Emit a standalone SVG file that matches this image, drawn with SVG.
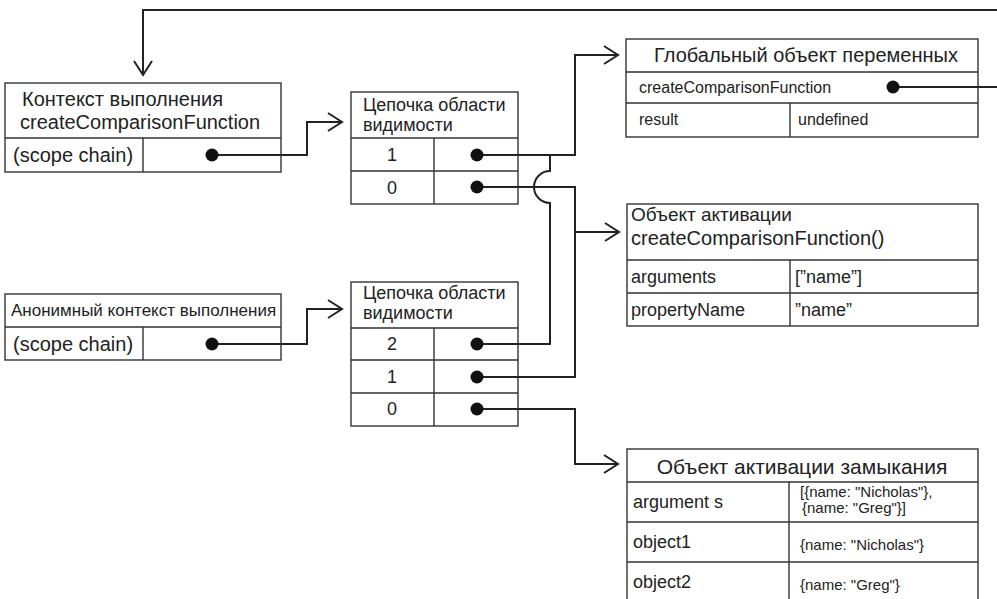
<svg xmlns="http://www.w3.org/2000/svg" width="997" height="599" viewBox="0 0 997 599">
<defs>
<style>
.box{fill:#fff;stroke:#333;stroke-width:1.4}
.div{stroke:#333;stroke-width:1.4;fill:none}
.con{fill:none;stroke:#222;stroke-width:2}
.dot{fill:#111}
text{font-family:"Liberation Sans",Arial,sans-serif;fill:#222}
.h21{font-size:21px}
.h20{font-size:20px}
.h19{font-size:19px}
.h18{font-size:18px}
.h17{font-size:17px}
.t16{font-size:16px}
.t15{font-size:15px}
.mid{text-anchor:middle}
</style>
<marker id="arr" markerUnits="userSpaceOnUse" markerWidth="20" markerHeight="24" viewBox="-16 -12 20 24" refX="0" refY="0" orient="auto">
<path d="M-14,-9 L0,0 L-14,9" fill="none" stroke="#222" stroke-width="2"/>
</marker>
</defs>
<rect width="997" height="599" fill="#fff"/>

<g id="ctx1">
<rect class="box" x="5" y="83" width="276" height="89"/>
<path class="div" d="M5,138 H281 M143,138 V172"/>
<text class="h20" x="22" y="106">Контекст выполнения</text>
<text class="h20" x="20" y="129">createComparisonFunction</text>
<text class="h20" x="13" y="162">(scope chain)</text>
</g>

<g id="anon">
<rect class="box" x="5" y="294" width="276" height="66"/>
<path class="div" d="M5,327 H281 M143,327 V360"/>
<text class="h17" x="11" y="316">Анонимный контекст выполнения</text>
<text class="h20" x="13" y="351">(scope chain)</text>
</g>

<g id="chain1">
<rect class="box" x="351" y="92" width="167" height="112"/>
<path class="div" d="M351,138 H518 M351,171 H518 M434,138 V204"/>
<text class="h18" x="363" y="111">Цепочка области</text>
<text class="h18" x="363" y="131">видимости</text>
<text class="h18 mid" x="392" y="161">1</text>
<text class="h18 mid" x="392" y="194">0</text>
</g>

<g id="chain2">
<rect class="box" x="351" y="282" width="167" height="144"/>
<path class="div" d="M351,328 H518 M351,360 H518 M351,393 H518 M434,328 V426"/>
<text class="h18" x="363" y="299">Цепочка области</text>
<text class="h18" x="363" y="319">видимости</text>
<text class="h18 mid" x="392" y="350">2</text>
<text class="h18 mid" x="392" y="383">1</text>
<text class="h18 mid" x="392" y="415">0</text>
</g>

<g id="global">
<rect class="box" x="626" y="39" width="352" height="98"/>
<path class="div" d="M626,72 H978 M626,103 H978 M790,103 V137"/>
<text class="h20 mid" x="806" y="62">Глобальный объект переменных</text>
<text class="t16" x="639" y="93">createComparisonFunction</text>
<text class="t16" x="639" y="125">result</text>
<text class="t16" x="798" y="125">undefined</text>
</g>

<g id="activation">
<rect class="box" x="627" y="204" width="351" height="122"/>
<path class="div" d="M627,260 H978 M627,293 H978 M790,260 V326"/>
<text class="h19" x="631" y="221">Объект активации</text>
<text class="h20" x="631" y="245">createComparisonFunction()</text>
<text class="h18" x="631" y="283">arguments</text>
<text class="h18" x="795" y="283">[”name”]</text>
<text class="h18" x="631" y="316">propertyName</text>
<text class="h18" x="795" y="316">”name”</text>
</g>

<g id="closure">
<rect class="box" x="627" y="449" width="351" height="160"/>
<path class="div" d="M627,482 H978 M627,522 H978 M627,562 H978 M789,482 V609"/>
<text class="h21 mid" x="802" y="474">Объект активации замыкания</text>
<text class="h18" x="633" y="508">argument s</text>
<text class="t15" x="800" y="497">[{name: "Nicholas"},</text>
<text class="t15" x="802" y="513"> {name: "Greg"}]</text>
<text class="h18" x="633" y="548">object1</text>
<text class="t15" x="800" y="550">{name: "Nicholas"}</text>
<text class="h18" x="633" y="588">object2</text>
<text class="t15" x="800" y="590">{name: "Greg"}</text>
</g>

<g id="connectors">
<path class="con" d="M893,87 H1010 V10 H143 V75" marker-end="url(#arr)"/>
<path class="con" d="M212,155 H307 V122 H342" marker-end="url(#arr)"/>
<path class="con" d="M212,344 H307 V309 H342" marker-end="url(#arr)"/>
<path class="con" d="M477,155 H575 V55 H618" marker-end="url(#arr)"/>
<path class="con" d="M477,187 H575 V232 H619" marker-end="url(#arr)"/>
<path class="con" d="M477,377 H575 V232"/>
<path class="con" d="M477,344 H550 V203 A16,16 0 0 1 550,171 V155"/>
<path class="con" d="M477,409 H575 V464 H618" marker-end="url(#arr)"/>
<circle class="dot" cx="212" cy="155" r="6.5"/>
<circle class="dot" cx="212" cy="344" r="6.5"/>
<circle class="dot" cx="477" cy="155" r="6.5"/>
<circle class="dot" cx="477" cy="187" r="6.5"/>
<circle class="dot" cx="477" cy="344" r="6.5"/>
<circle class="dot" cx="477" cy="377" r="6.5"/>
<circle class="dot" cx="477" cy="409" r="6.5"/>
<circle class="dot" cx="893" cy="87" r="6.5"/>
</g>
</svg>
